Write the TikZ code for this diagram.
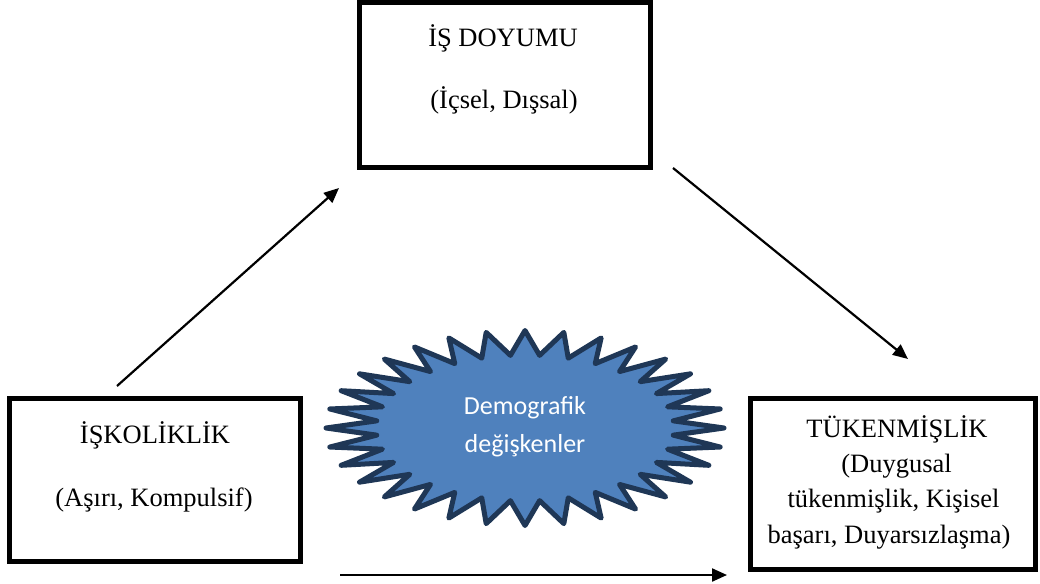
\documentclass[tikz,border=0pt]{standalone}
\usepackage{fontspec}
\setmainfont{Liberation Serif}
\newfontfamily\calibrifont{Carlito}
\usetikzlibrary{arrows.meta}
\definecolor{starfill}{HTML}{4F81BD}
\definecolor{starline}{HTML}{1F3756}
\begin{document}
\begin{tikzpicture}[x=1pt,y=-1pt,
  box/.style={draw=black, line width=4.5pt, rectangle, inner sep=0pt},
  label/.style={anchor=base, inner sep=0pt, font=\fontsize{26.5}{30}\selectfont},
  startext/.style={anchor=base, inner sep=0pt, text=white, font=\calibrifont\fontsize{26}{30}\selectfont},
  link/.style={draw=black, line width=2.2pt, -{Triangle[length=15pt,width=13pt]}}]
\useasboundingbox (0,0) rectangle (1040,583);

% boxes
\node[box, minimum width=291pt, minimum height=165pt] (doy) at (505,85) {};
\node[box, minimum width=291pt, minimum height=163pt] (isk) at (155,480) {};
\node[box, minimum width=285pt, minimum height=171pt] (tuk) at (893,484) {};

% texts
\node[label] (doy1) at (503,47) {İŞ DOYUMU};
\node[label] (doy2) at (504,109) {(İçsel, Dışsal)};
\node[label] (isk1) at (155,443) {İŞKOLİKLİK};
\node[label] (isk2) at (154,506) {(Aşırı, Kompulsif)};
\node[label] (tuk1) at (897,437) {TÜKENMİŞLİK};
\node[label] (tuk2) at (896.5,472) {(Duygusal};
\node[label] (tuk3) at (893.5,507.5) {tükenmişlik, Kişisel};
\node[label] (tuk4) at (889,543) {başarı, Duyarsızlaşma)};

% starburst
\path[draw=starline, fill=starfill, line width=5pt, line join=round]
  (525+199,428) \foreach \k in {1,...,63} {
    -- ({525+ifthenelse(isodd(\k),149,199)*cos(\k*5.625)},
        {428+ifthenelse(isodd(\k),73,97.5)*sin(\k*5.625)}) } -- cycle;
\node[startext] (demo1) at (525,414) {Demografik};
\node[startext] (demo2) at (525,452) {değişkenler};

% connectors
\coordinate (a1s) at (117,386);
\coordinate (a1e) at (339,188);
\coordinate (a2s) at (673,168);
\coordinate (a2e) at (908,359);
\coordinate (a3s) at (340,575);
\coordinate (a3e) at (727,575);
\draw[link] (a1s) -- (a1e);
\draw[link] (a2s) -- (a2e);
\draw[link] (a3s) -- (a3e);
\end{tikzpicture}
\end{document}
